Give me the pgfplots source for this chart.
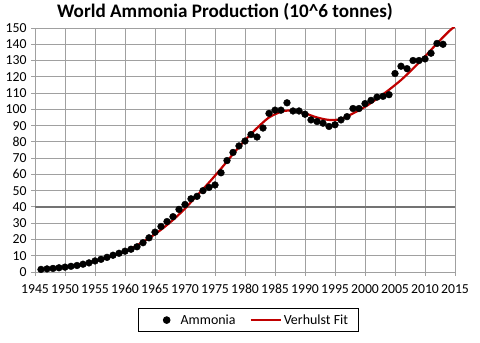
\documentclass[border=0pt]{standalone}
\usepackage{pgfplots}
\pgfplotsset{compat=1.18}
\usepackage{pgfplotstable}
\usepackage{fontspec}
\setmainfont{Carlito}
\definecolor{gridgray}{RGB}{160,160,160}
\definecolor{fitred}{RGB}{192,0,0}
\pgfplotsset{
  longline legend/.style={legend image code/.code={\draw[##1] (0bp,0bp) -- (30bp,0bp);}},
  dot legend/.style={legend image code/.code={\path[draw=none,fill=none] (0bp,0bp) -- (32bp,0bp); \fill[black] (20bp,0bp) circle[radius=3.4bp];}},
}
\pgfplotstableread{
year val
1946 1.6
1947 1.9
1948 2.2
1949 2.6
1950 3.0
1951 3.5
1952 4.0
1953 4.8
1954 5.6
1955 6.8
1956 7.8
1957 9.0
1958 10.3
1959 11.5
1960 12.8
1961 14.0
1962 15.5
1963 18.0
1964 21.0
1965 24.5
1966 28.0
1967 31.0
1968 34.0
1969 38.5
1970 41.5
1971 45.0
1972 46.5
1973 50.0
1974 52.0
1975 53.5
1976 61.0
1977 68.5
1978 73.5
1979 77.5
1980 80.5
1981 84.5
1982 83.0
1983 88.5
1984 97.5
1985 99.5
1986 99.5
1987 104.0
1988 99.0
1989 99.0
1990 97.0
1991 93.5
1992 92.5
1993 91.5
1994 89.5
1995 90.5
1996 93.5
1997 95.5
1998 100.5
1999 100.5
2000 103.5
2001 105.5
2002 107.5
2003 108.0
2004 109.0
2005 122.0
2006 126.5
2007 125.0
2008 130.0
2009 130.0
2010 131.0
2011 134.5
2012 140.5
2013 140.0
}\ammonia
\pgfplotstableread{
year val
1946 1.8
1948 2.5
1950 3.3
1952 4.4
1954 5.8
1956 7.6
1958 9.9
1960 12.8
1962 16.4
1964 20.8
1966 26.0
1968 32.0
1970 39.0
1972 47.0
1974 55.0
1976 63.5
1978 72.5
1980 81.0
1982 88.5
1984 95.0
1986 98.5
1987 99.2
1988 99.2
1990 97.5
1992 95.0
1994 93.5
1996 94.0
1998 97.5
2000 101.5
2002 106.5
2004 112.0
2006 118.0
2008 125.0
2010 132.5
2012 140.5
2014 148.0
2015 151.0
}\verhulst
\begin{document}
\begin{tikzpicture}
\path[use as bounding box] (0,0) rectangle (480bp,343bp);
\node[font=\fontsize{19.2}{22}\selectfont\bfseries] at (225bp,331bp) {World Ammonia Production (10\textasciicircum 6 tonnes)};
\begin{axis}[
  at={(35bp,71bp)}, anchor=south west,
  scale only axis, width=420bp, height=244bp,
  xmin=1945, xmax=2015, ymin=0, ymax=150,
  xtick={1945,1950,...,2015}, ytick={0,10,...,150},
  grid=major,
  major grid style={draw=gridgray, line width=0.9pt},
  axis line style={draw=gridgray, line width=0.9pt},
  tick style={draw=gridgray, line width=0.9pt},
  tick align=outside, major tick length=4bp,
  xtick pos=bottom, ytick pos=left,
  /pgf/number format/1000 sep={},
  /pgf/number format/assume math mode=true,
  ticklabel style={font=\fontsize{13.8}{16}\selectfont, text=black},
  yticklabel style={xshift=-1bp},
  xticklabel style={yshift=-5bp},
  clip=true,
  legend columns=2,
  legend style={at={(0.508,-0.148)}, anchor=north, draw=black, line width=0.8pt,
    font=\fontsize{14}{16}\selectfont, inner xsep=8bp, inner ysep=4bp,
    /tikz/every even column/.append style={column sep=12bp}},
  legend cell align=left,
]
\draw[draw=gray!90!black, line width=2pt] (axis cs:1945,40) -- (axis cs:2015,40);
\addplot[only marks, mark=*, mark size=3.4bp, draw=black, fill=black, dot legend] table[x=year,y=val]{\ammonia};
\addlegendentry{Ammonia}
\addplot[fitred, line width=2.2pt, smooth, no marks, longline legend] table[x=year,y=val]{\verhulst};
\addlegendentry{Verhulst Fit}
\end{axis}
\end{tikzpicture}
\end{document}
